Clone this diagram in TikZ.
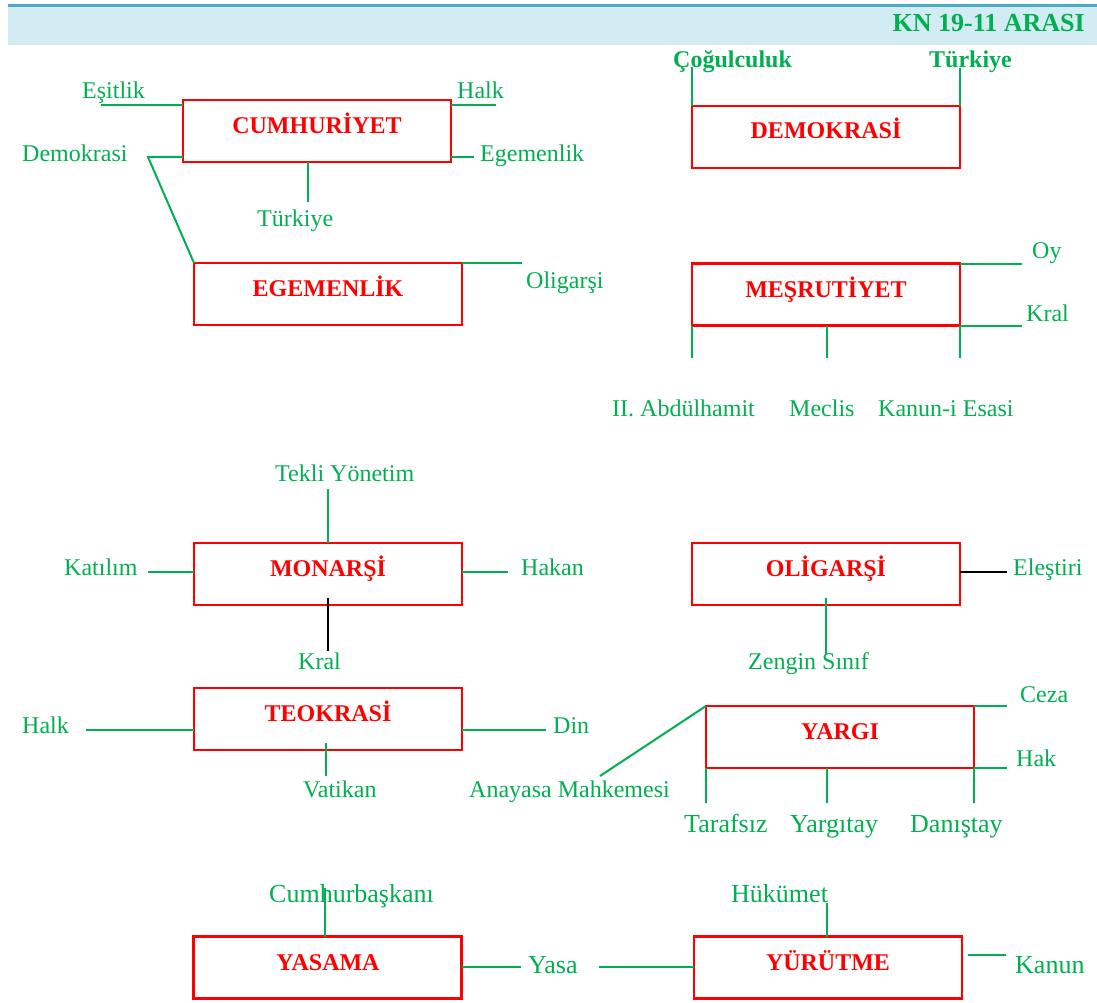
\documentclass[tikz,border=0pt]{standalone}
\usepackage{fontspec}
\setmainfont{Liberation Serif}
\usetikzlibrary{calc}
\definecolor{grn}{HTML}{00B050}
\definecolor{rd}{HTML}{FF0000}
\definecolor{band}{HTML}{D3EBF3}
\definecolor{bandline}{HTML}{4BACC6}
\begin{document}
\begin{tikzpicture}[x=1pt,y=-1pt,
 box/.style={draw=rd, line width=2.5pt, inner sep=0pt, outer sep=0pt, minimum width=268pt, minimum height=62pt},
 blab/.style={text=rd, font=\fontsize{24}{28}\selectfont\bfseries, inner sep=0pt, anchor=base},
 lab/.style={text=grn, font=\fontsize{24}{28}\selectfont, inner sep=0pt, anchor=base west},
 labL/.style={text=grn, font=\fontsize{26}{30}\selectfont, inner sep=0pt, anchor=base west},
 labB/.style={text=grn, font=\fontsize{24}{28}\selectfont\bfseries, inner sep=0pt, anchor=base west},
 gl/.style={draw=grn, line width=2pt},
 gthin/.style={draw=grn, line width=1.2pt},
 bl/.style={draw=black, line width=2pt}]
\useasboundingbox (0,0) rectangle (1097,1003);
\fill[white] (0,0) rectangle (1097,1003);
% header
\fill[band] (8,5) rectangle (1097,45);
\fill[bandline] (8,4) rectangle (1097,7.5);
\node[text=grn, font=\fontsize{26}{30}\selectfont\bfseries, inner sep=0pt, anchor=base east] (hdr) at (1085,32) {KN 19-11 ARASI};

% boxes
\node[box] (cum) at (317,131) {};
\node[box] (ege) at (328,294) {};
\node[box] (dem) at (826,137) {};
\node[box] (mes) at (826,294.5) {};
\node[box] (mon) at (328,574) {};
\node[box] (teo) at (328,719) {};
\node[box] (oli) at (826,574) {};
\node[box] (yar) at (840,737) {};
\node[box] (yas) at (327.5,967.5) {};
\node[box] (yur) at (828,967.5) {};

% box labels
\node[blab] (cumL) at (317,134) {CUMHURİYET};
\node[blab] (egeL) at (328,296) {EGEMENLİK};
\node[blab] (demL) at (826,139) {DEMOKRASİ};
\node[blab] (mesL) at (826,297) {MEŞRUTİYET};
\node[blab] (monL) at (328,576) {MONARŞİ};
\node[blab] (teoL) at (328,721) {TEOKRASİ};
\node[blab] (oliL) at (826,576) {OLİGARŞİ};
\node[blab] (yarL) at (840,739) {YARGI};
\node[blab] (yasL) at (328,970) {YASAMA};
\node[blab] (yurL) at (828,970) {YÜRÜTME};

% green labels
\node[lab] (esit) at (82,99) {Eşitlik};
\node[lab] (halk1) at (457,99) {Halk};
\node[lab] (demo) at (22,162) {Demokrasi};
\node[lab] (egem) at (480,162) {Egemenlik};
\node[lab] (turk1) at (257,226) {Türkiye};
\node[lab] (olig) at (526,288) {Oligarşi};
\node[labB] (cogul) at (673,68) {Çoğulculuk};
\node[labB] (turk2) at (929,68) {Türkiye};
\node[lab] (oy) at (1032,258) {Oy};
\node[lab] (kral1) at (1026,321) {Kral};
\node[lab] (abdul) at (612,416) {II. Abdülhamit};
\node[lab] (mecl) at (789,416) {Meclis};
\node[lab] (kanes) at (878,416) {Kanun-i Esasi};
\node[lab] (tekli) at (275,481) {Tekli Yönetim};
\node[lab] (katil) at (64,575) {Katılım};
\node[lab] (hakan) at (521,575) {Hakan};
\node[lab] (kral2) at (298,669) {Kral};
\node[lab] (halk2) at (22,733) {Halk};
\node[lab] (din) at (553,733) {Din};
\node[lab] (vat) at (303,797) {Vatikan};
\node[lab] (anay) at (469,797) {Anayasa Mahkemesi};
\node[lab] (elest) at (1013,575) {Eleştiri};
\node[lab] (zeng) at (748,669) {Zengin Sınıf};
\node[lab] (ceza) at (1020,702) {Ceza};
\node[lab] (hak) at (1016,766) {Hak};
\node[labL] (taraf) at (684,832) {Tarafsız};
\node[labL] (yargt) at (790,832) {Yargıtay};
\node[labL] (danis) at (910,832) {Danıştay};
\node[labL] (cumb) at (269,902) {Cumhurbaşkanı};
\node[labL] (hukm) at (731,902) {Hükümet};
\node[labL] (yasa) at (528,973) {Yasa};
\node[labL] (kanun) at (1015,973) {Kanun};

% free ends
\coordinate (c1) at (101,105);
\coordinate (c2) at (496,105);
\coordinate (c3) at (148,157);
\coordinate (c4) at (474,157);
\coordinate (c5) at (308,202);
\coordinate (c6) at (522,263);
\coordinate (d1) at (692,67);
\coordinate (d2) at (960,68);
\coordinate (m1) at (1022,263);
\coordinate (m2) at (1022,326);
\coordinate (mb1) at (692,358);
\coordinate (mb2) at (827,358);
\coordinate (mb3) at (960,358);
\coordinate (t1) at (328,489);
\coordinate (k1) at (148,572);
\coordinate (h1) at (508,572);
\coordinate (kr1) at (328,598);
\coordinate (kr2) at (328,651);
\coordinate (hl1) at (86,730);
\coordinate (dn1) at (546,730);
\coordinate (v1) at (326,743);
\coordinate (v2) at (326,776);
\coordinate (e1) at (1007,572);
\coordinate (z1) at (826,598);
\coordinate (z2) at (826,655);
\coordinate (cz) at (1007,706);
\coordinate (hk) at (1007,768);
\coordinate (am) at (600,776);
\coordinate (yb1) at (706,803);
\coordinate (yb2) at (827,803);
\coordinate (yb3) at (974,803);
\coordinate (cb) at (325,888);
\coordinate (ya1) at (521,967);
\coordinate (ya2) at (599,967);
\coordinate (hu) at (827,903);
\coordinate (kn1) at (968,955);
\coordinate (kn2) at (1006,955);

% connectors
\draw[gl] (c1) -- (c1 -| cum.west);
\draw[gl] (c2 -| cum.east) -- (c2);
\draw[gl] (cum.west |- c3) -- (c3) -- (ege.north west);
\draw[gl] (cum.east |- c4) -- (c4);
\draw[gl] (cum.south -| c5) -- (c5);
\draw[gl] (ege.north east) -- (c6 |- ege.north east);
\draw[gl] (dem.north west) -- (dem.north west |- d1);
\draw[gl] (dem.north east) -- (dem.north east |- d2);
\draw[gl] (mes.north east) -- (m1 |- mes.north east);
\draw[gl] (mes.south east) -- (m2 |- mes.south east);
\draw[gl] (mes.south west) -- (mes.south west |- mb1);
\draw[gl] (mes.south -| mb2) -- (mb2);
\draw[gl] (mes.south east) -- (mes.south east |- mb3);
\draw[gl] (mon.north) -- (mon.north |- t1);
\draw[gl] (k1) -- (k1 -| mon.west);
\draw[gl] (h1 -| mon.east) -- (h1);
\draw[bl] (kr1) -- (kr2);
\draw[gl] (hl1) -- (hl1 -| teo.west);
\draw[gl] (dn1 -| teo.east) -- (dn1);
\draw[gl] (v1) -- (v2);
\draw[bl] (oli.east |- e1) -- (e1);
\draw[gl] (z1) -- (z2);
\draw[gl] (yar.north east) -- (cz |- yar.north east);
\draw[gl] (yar.south east) -- (hk |- yar.south east);
\draw[gl] (am) -- (yar.north west);
\draw[gl] (yar.south west) -- (yar.south west |- yb1);
\draw[gl] (yar.south -| yb2) -- (yb2);
\draw[gl] (yar.south east) -- (yar.south east |- yb3);
\draw[gthin] (yas.north -| cb) -- (cb);
\draw[gl] (yas.east |- ya1) -- (ya1);
\draw[gl] (ya2) -- (ya2 -| yur.west);
\draw[gthin] (yur.north -| hu) -- (hu);
\draw[gl] (kn1) -- (kn2);
\end{tikzpicture}
\end{document}
